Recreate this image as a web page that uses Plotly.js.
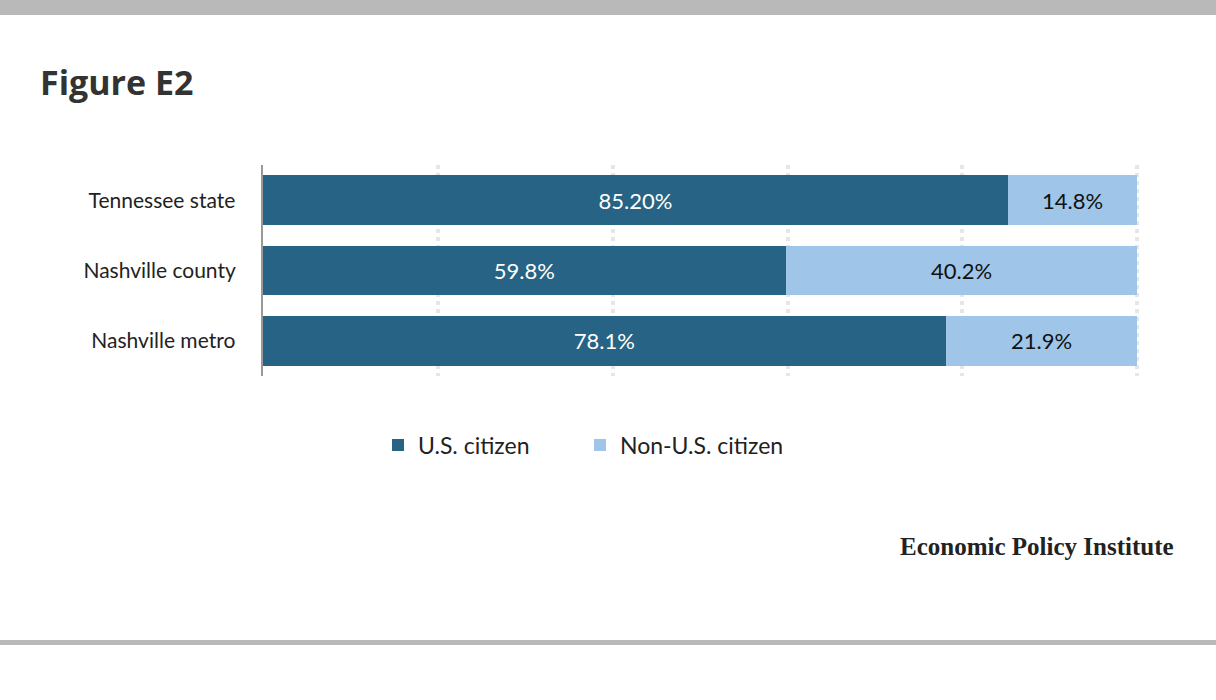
<!DOCTYPE html>
<html><head><script src="https://cdn.plot.ly/plotly-3.0.1.min.js"></script>
<style>body{margin:0;}#c{width:1216px;height:700px;}</style></head><body><div id="c"></div>
<script>
var categories=["Tennessee state","Nashville county","Nashville metro"];
var citizen=[85.2,59.8,78.1];
var nonCitizen=[14.8,40.2,21.9];
var citizenLabels=["85.20%","59.8%","78.1%"];
var nonLabels=["14.8%","40.2%","21.9%"];
var F="Lato, 'Open Sans', sans-serif";
var data=[
{type:"bar",orientation:"h",name:"U.S. citizen",y:categories,x:citizen,text:citizenLabels,textposition:"inside",insidetextanchor:"middle",textfont:{color:"#ffffff",size:22,family:F},marker:{color:"#266384"},hoverinfo:"none"},
{type:"bar",orientation:"h",name:"Non-U.S. citizen",y:categories,x:nonCitizen,text:nonLabels,textposition:"inside",insidetextanchor:"middle",textfont:{color:"#111111",size:22,family:F},marker:{color:"#9fc5e8"},hoverinfo:"none"}
];
var layout={width:1216,height:700,barmode:"stack",bargap:0.29,paper_bgcolor:"#fff",plot_bgcolor:"#fff",
margin:{l:263,r:77,t:165,b:324},
font:{family:F,color:"#222"},
xaxis:{range:[0,100.2],dtick:20,showticklabels:false,showgrid:true,gridcolor:"#e6e6e6",griddash:"dot",gridwidth:4,zeroline:false,fixedrange:true},
yaxis:{autorange:"reversed",showline:true,linecolor:"#999",linewidth:2,ticks:"",tickfont:{size:21,color:"#222"},ticksuffix:"    ",fixedrange:true},
showlegend:true,legend:{orientation:"h",x:(378-263)/876,xanchor:"left",y:-(445-376)/211,yanchor:"middle",font:{size:23,color:"#222"},traceorder:"normal",entrywidth:157,itemwidth:30},
title:{text:"<b>Figure E2</b>",x:40/1216,xanchor:"left",y:1-83/700,yanchor:"middle",font:{size:34,color:"#333",family:"'Open Sans', sans-serif"}},
shapes:[
{type:"rect",xref:"paper",yref:"paper",x0:-263/876,x1:1+77/876,y0:1+150/211,y1:1+165/211,fillcolor:"#b9b9b9",line:{width:0}},
{type:"rect",xref:"paper",yref:"paper",x0:-263/876,x1:1+77/876,y0:-(640-376)/211,y1:-(645-376)/211,fillcolor:"#b9b9b9",line:{width:0}}
],
annotations:[{text:"<b>Economic Policy Institute</b>",xref:"paper",yref:"paper",x:(1176-263)/876,xanchor:"right",y:-(546-376)/211,yanchor:"middle",showarrow:false,font:{family:"'Liberation Serif', serif",size:25,color:"#222"}}]
};
Plotly.newPlot("c",data,layout,{displayModeBar:false,staticPlot:true});
</script></body></html>
